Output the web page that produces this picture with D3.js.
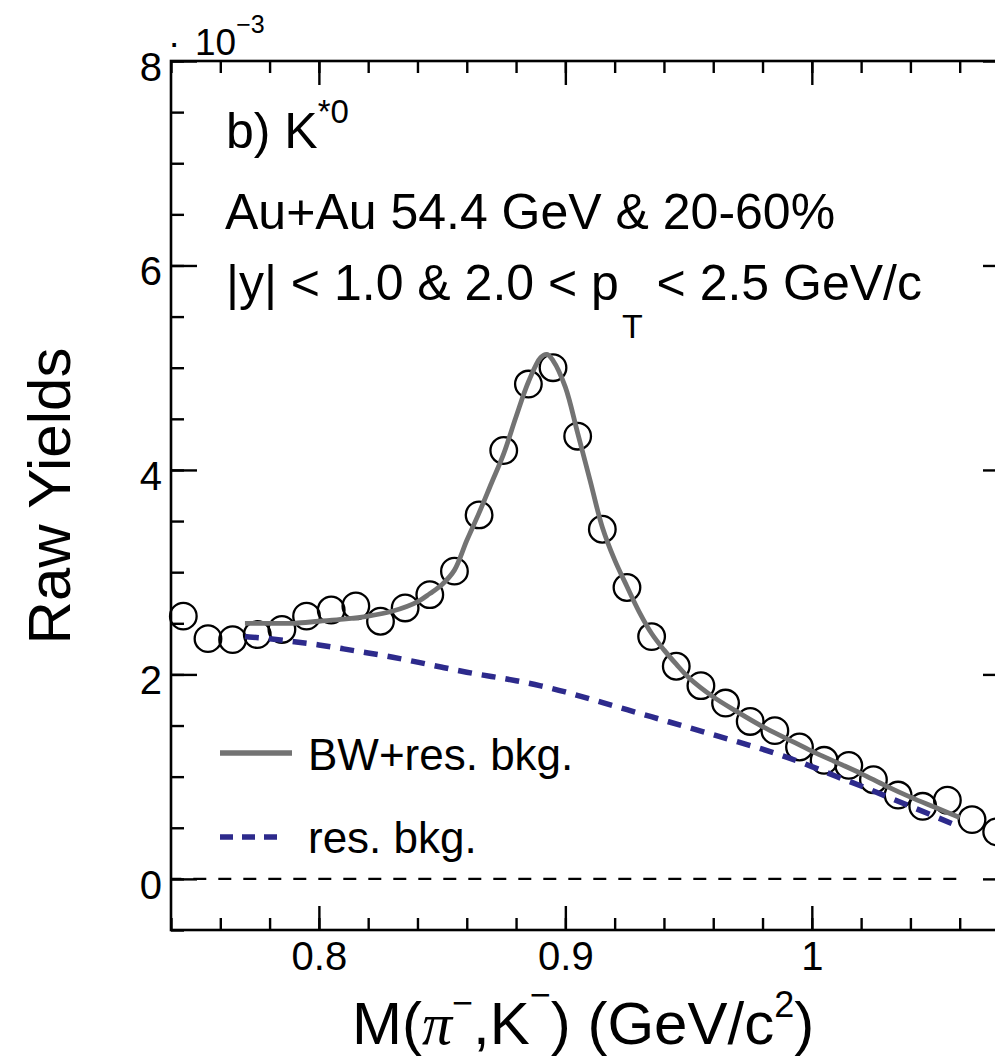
<!DOCTYPE html>
<html>
<head>
<meta charset="utf-8">
<script src="https://cdn.jsdelivr.net/npm/d3@7"></script>
<style>
  body { margin: 0; background: #fff; }
  svg { display: block; }
  text { font-family: "Liberation Sans", Arial, Helvetica, sans-serif; fill: #000; }
</style>
</head>
<body>
<div id="plot"></div>
<script>
// Data (raw yields in units of 10^-3)
var massBins = [0.745, 0.755, 0.765, 0.775, 0.785, 0.795, 0.805, 0.815, 0.825, 0.835,
                0.845, 0.855, 0.865, 0.875, 0.885, 0.895, 0.905, 0.915, 0.925, 0.935,
                0.945, 0.955, 0.965, 0.975, 0.985, 0.995, 1.005, 1.015, 1.025, 1.035,
                1.045, 1.055, 1.065, 1.075];
var rawYield = [2.57, 2.35, 2.34, 2.39, 2.44, 2.57, 2.63, 2.67, 2.52, 2.65,
                2.78, 3.01, 3.56, 4.19, 4.84, 5.00, 4.33, 3.42, 2.85, 2.37,
                2.08, 1.89, 1.72, 1.54, 1.45, 1.29, 1.16, 1.11, 0.97, 0.82,
                0.71, 0.77, 0.58, 0.46];

// BW + residual background fit
var fitMass = [0.77, 0.78, 0.79, 0.80, 0.81, 0.82, 0.83, 0.84, 0.845, 0.85,
               0.855, 0.86, 0.865, 0.87, 0.875, 0.88, 0.885, 0.89, 0.8925, 0.895,
               0.90, 0.905, 0.91, 0.915, 0.92, 0.925, 0.93, 0.935, 0.94, 0.945,
               0.95, 0.96, 0.97, 0.98, 0.99, 1.00, 1.01, 1.02, 1.03, 1.04, 1.05, 1.06];
var fitYield = [2.50, 2.50, 2.50, 2.52, 2.54, 2.57, 2.62, 2.71, 2.79, 2.88,
                3.02, 3.31, 3.58, 3.87, 4.16, 4.52, 4.86, 5.10, 5.13, 5.07,
                4.81, 4.36, 3.90, 3.44, 3.12, 2.86, 2.61, 2.40, 2.24, 2.10,
                1.97, 1.78, 1.63, 1.49, 1.37, 1.25, 1.14, 1.03, 0.91, 0.80, 0.70, 0.60];

// residual background
var bkgMass = [0.77, 0.78, 0.79, 0.80, 0.81, 0.82, 0.83, 0.84, 0.85, 0.86,
               0.87, 0.88, 0.89, 0.90, 0.91, 0.92, 0.93, 0.94, 0.95, 0.96,
               0.97, 0.98, 0.99, 1.00, 1.01, 1.02, 1.03, 1.04, 1.05, 1.06];
var bkgYield = [2.37, 2.35, 2.32, 2.29, 2.25, 2.21, 2.17, 2.12, 2.07, 2.02,
                1.98, 1.94, 1.89, 1.83, 1.76, 1.69, 1.62, 1.55, 1.48, 1.41,
                1.34, 1.27, 1.19, 1.10, 1.00, 0.91, 0.81, 0.71, 0.61, 0.51];

var xMajorTicks = [0.8, 0.9, 1.0];
var xTickLabels = ["0.8", "0.9", "1"];
var yMajorTicks = [0, 2, 4, 6, 8];
var zeroLineRange = [0.74, 1.06];

// SVG area
var svgWidth = 995;
var svgHeight = 1059;
var margin = { top: 61, right: -14, bottom: 129, left: 171 };

var svg = d3.select("#plot")
  .append("svg")
  .attr("width", svgWidth)
  .attr("height", svgHeight);

// scales
var x = d3.scaleLinear()
  .domain([0.74, 1.08])
  .range([margin.left, svgWidth - margin.right]);
var y = d3.scaleLinear()
  .domain([-0.5, 8])
  .range([svgHeight - margin.bottom, margin.top]);

var x0 = x.range()[0], x1 = x.range()[1];
var y0 = y.range()[0], y1 = y.range()[1];

// ---- axes (ticks inward on all four sides) ----
function styleAxis(g) {
  g.select(".domain").remove();
  g.selectAll(".tick line").attr("stroke", "#000").attr("stroke-width", 2.4);
}

svg.append("g").attr("transform", `translate(0,${y0})`)
  .call(d3.axisBottom(x).tickValues(x.ticks(17)).tickSize(-12).tickFormat(""))
  .call(styleAxis);
svg.append("g").attr("transform", `translate(0,${y0})`)
  .call(d3.axisBottom(x).tickValues(xMajorTicks).tickSize(-24).tickPadding(12)
    .tickFormat(function(d, i) { return xTickLabels[i]; }))
  .call(styleAxis);
svg.append("g").attr("transform", `translate(0,${y1})`)
  .call(d3.axisTop(x).tickValues(x.ticks(17)).tickSize(-12).tickFormat(""))
  .call(styleAxis);
svg.append("g").attr("transform", `translate(0,${y1})`)
  .call(d3.axisTop(x).tickValues(xMajorTicks).tickSize(-24).tickFormat(""))
  .call(styleAxis);

svg.append("g").attr("transform", `translate(${x0},0)`)
  .call(d3.axisLeft(y).tickValues(y.ticks(17)).tickSize(-13).tickFormat(""))
  .call(styleAxis);
svg.append("g").attr("transform", `translate(${x0},0)`)
  .call(d3.axisLeft(y).tickValues(yMajorTicks).tickSize(-26).tickPadding(9)
    .tickFormat(d3.format("d")))
  .call(styleAxis);
svg.append("g").attr("transform", `translate(${x1},0)`)
  .call(d3.axisRight(y).tickValues(y.ticks(17)).tickSize(-13).tickFormat(""))
  .call(styleAxis);
svg.append("g").attr("transform", `translate(${x1},0)`)
  .call(d3.axisRight(y).tickValues(yMajorTicks).tickSize(-26).tickFormat(""))
  .call(styleAxis);

svg.selectAll(".tick text")
  .attr("font-family", "Liberation Sans, Arial, sans-serif")
  .attr("font-size", 40)
  .attr("fill", "#000");
svg.selectAll(".tick text").filter(function() { return this.getAttribute("dy") === "0.32em"; })
  .attr("dy", "0.48em");

// frame
svg.append("rect")
  .attr("x", x0).attr("y", y1)
  .attr("width", x1 - x0).attr("height", y0 - y1)
  .attr("fill", "none")
  .attr("stroke", "#000")
  .attr("stroke-width", 2.6);

// zero line
svg.append("line")
  .attr("x1", x(zeroLineRange[0])).attr("x2", x(zeroLineRange[1]))
  .attr("y1", y(0)).attr("y2", y(0))
  .attr("stroke", "#000")
  .attr("stroke-width", 2.2)
  .attr("stroke-dasharray", "13,12")
  .attr("stroke-dashoffset", 2.7);

// data points
svg.append("g").selectAll("circle")
  .data(massBins)
  .enter().append("circle")
  .attr("cx", function(d) { return x(d); })
  .attr("cy", function(d, i) { return y(rawYield[i]); })
  .attr("r", 13.3)
  .attr("fill", "none")
  .attr("stroke", "#000")
  .attr("stroke-width", 2.3);

// curves
var bkgLine = d3.line()
  .x(function(d) { return x(d); })
  .y(function(d, i) { return y(bkgYield[i]); })
  .curve(d3.curveBasis);
svg.append("path")
  .attr("d", bkgLine(bkgMass))
  .attr("fill", "none")
  .attr("stroke", "#2d2a8c")
  .attr("stroke-width", 5.5)
  .attr("stroke-dasharray", "14,10");

var fitLine = d3.line()
  .x(function(d) { return x(d); })
  .y(function(d, i) { return y(fitYield[i]); })
  .curve(d3.curveCatmullRom);
svg.append("path")
  .attr("d", fitLine(fitMass))
  .attr("fill", "none")
  .attr("stroke", "#737373")
  .attr("stroke-width", 4.8)
  .attr("stroke-linejoin", "round");

// legend
svg.append("line")
  .attr("x1", 220).attr("x2", 292).attr("y1", 753).attr("y2", 753)
  .attr("stroke", "#737373").attr("stroke-width", 5.5);
svg.append("text").attr("x", 308).attr("y", 770)
  .attr("font-size", 44).text("BW+res. bkg.");
svg.append("line")
  .attr("x1", 220).attr("x2", 282).attr("y1", 837).attr("y2", 837)
  .attr("stroke", "#2d2a8c").attr("stroke-width", 5.5)
  .attr("stroke-dasharray", "13,9");
svg.append("text").attr("x", 308).attr("y", 853)
  .attr("font-size", 44).text("res. bkg.");

// annotations
var t1 = svg.append("text").attr("x", 226).attr("y", 148).attr("font-size", 50);
t1.append("tspan").text("b) K");
t1.append("tspan").attr("font-size", 33).attr("dy", -25).text("*0");

svg.append("text").attr("x", 225).attr("y", 229).attr("font-size", 50)
  .text("Au+Au 54.4 GeV & 20-60%");

var t3 = svg.append("text").attr("x", 226).attr("y", 300).attr("font-size", 50);
t3.append("tspan").text("|y| < 1.0 & 2.0 < p");
t3.append("tspan").attr("font-size", 34).attr("dx", 3).attr("dy", 38).text("T");
t3.append("tspan").attr("dy", -38).text(" < 2.5 GeV/c");

// exponent
var ex = svg.append("text").attr("y", 55).attr("font-size", 37);
ex.append("tspan").attr("x", 168).text("\u00b7");
ex.append("tspan").attr("x", 195).text("10");
ex.append("tspan").attr("font-size", 25).attr("dy", -22).text("\u22123");

// axis titles
var xt = svg.append("text").attr("x", 352).attr("y", 1044).attr("font-size", 60);
xt.append("tspan").text("M(");
xt.append("tspan").attr("font-family", "Liberation Serif, serif").attr("font-style", "italic").text("\u03c0");
xt.append("tspan").attr("font-size", 36).attr("dy", -29).text("\u2212");
xt.append("tspan").attr("dy", 29).text(",K");
xt.append("tspan").attr("font-size", 36).attr("dy", -37).text("\u2212");
xt.append("tspan").attr("dy", 37).text(") (GeV/c");
xt.append("tspan").attr("font-size", 36).attr("dy", -27).text("2");
xt.append("tspan").attr("dy", 27).text(")");

svg.append("text")
  .attr("transform", "translate(70,496) rotate(-90)")
  .attr("text-anchor", "middle")
  .attr("font-size", 60)
  .text("Raw Yields");
</script>
</body>
</html>
